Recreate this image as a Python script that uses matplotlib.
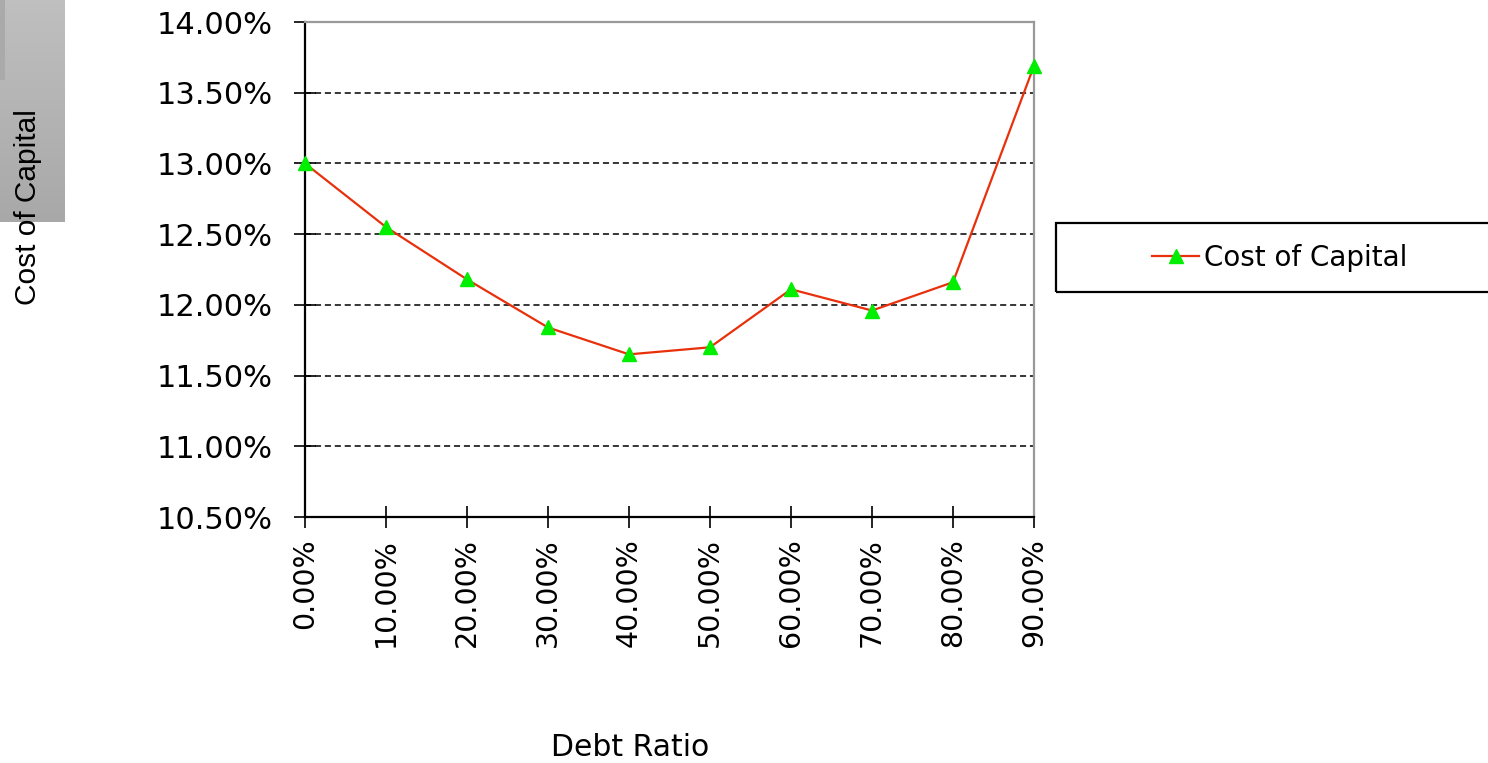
import matplotlib.pyplot as plt
import numpy as np
from matplotlib.patches import Rectangle
from matplotlib.ticker import FuncFormatter

# debt ratio (%) and the resulting cost of capital (%)
debt_ratio = [0, 10, 20, 30, 40, 50, 60, 70, 80, 90]
cost_of_capital = [13.00, 12.55, 12.18, 11.84, 11.65, 11.70, 12.11, 11.96, 12.16, 13.69]
y_ticks = [10.5, 11.0, 11.5, 12.0, 12.5, 13.0, 13.5, 14.0]

W, H = 1488, 763
fig = plt.figure(figsize=(W / 100, H / 100), dpi=100)

# grey gradient block in the top-left corner
gax = fig.add_axes([0, 1 - 222 / H, 65 / W, 222 / H])
grad = np.linspace(0.75, 0.66, 100).reshape(-1, 1)
gax.imshow(np.repeat(grad, 3, axis=1)[:, :, None].repeat(3, axis=2), aspect='auto',
           extent=[0, 1, 0, 1])
gax.add_patch(Rectangle((0, 1 - 80 / 222), 5 / 65, 80 / 222, color='#aaaaaa', lw=0))
gax.axis('off')

ax = fig.add_axes([305 / W, 1 - 517 / H, (1034 - 305) / W, (517 - 22) / H])
x = np.arange(len(debt_ratio))
line, = ax.plot(x, cost_of_capital, color='#e8300c', lw=1.6, marker='^',
                markersize=10, markerfacecolor='#00ee00', markeredgecolor='#00ee00',
                label='Cost of Capital', zorder=3, clip_on=False)

ax.set_xlim(0, len(debt_ratio) - 1)
ax.set_ylim(10.5, 14.0)
ax.set_yticks(y_ticks)
ax.yaxis.set_major_formatter(FuncFormatter(lambda v, p: f'{v:.2f}%'))
ax.set_xticks(x)
ax.set_xticklabels([f'{d:.2f}%' for d in debt_ratio], rotation=90)
ax.tick_params(direction='inout', length=16, width=1.2)
ax.tick_params(axis='y', labelsize=22, pad=15)
ax.tick_params(axis='x', labelsize=20.5, pad=7)

for v in y_ticks[1:-1]:
    ax.axhline(v, color='black', lw=1.1, ls=(0, (4, 2.5)), zorder=1)

ax.spines['left'].set_color('black')
ax.spines['bottom'].set_color('black')
ax.spines['left'].set_linewidth(1.6)
ax.spines['bottom'].set_linewidth(1.6)
ax.spines['top'].set_color('#999999')
ax.spines['right'].set_color('#999999')
ax.spines['top'].set_linewidth(1.6)
ax.spines['right'].set_linewidth(1.6)

fig.text(630 / W, 1 - 748 / H, 'Debt Ratio', fontsize=21.5, ha='center', va='center')
fig.text(28 / W, 1 - 207 / H, 'Cost of Capital', fontsize=21.5, rotation=90,
         ha='center', va='center', family='Liberation Sans')

# legend box
fig.patches.append(Rectangle((1056 / W, 1 - 292 / H), 440 / W, 69 / H,
                             transform=fig.transFigure, fill=False,
                             ec='black', lw=1.6))
fig.legend(handles=[line], loc='center left', frameon=False, fontsize=20,
           bbox_to_anchor=(1141 / W, 1 - 258 / H), handlelength=1.7,
           handletextpad=0.15, borderaxespad=0)

fig.savefig('out.png', dpi=100)
